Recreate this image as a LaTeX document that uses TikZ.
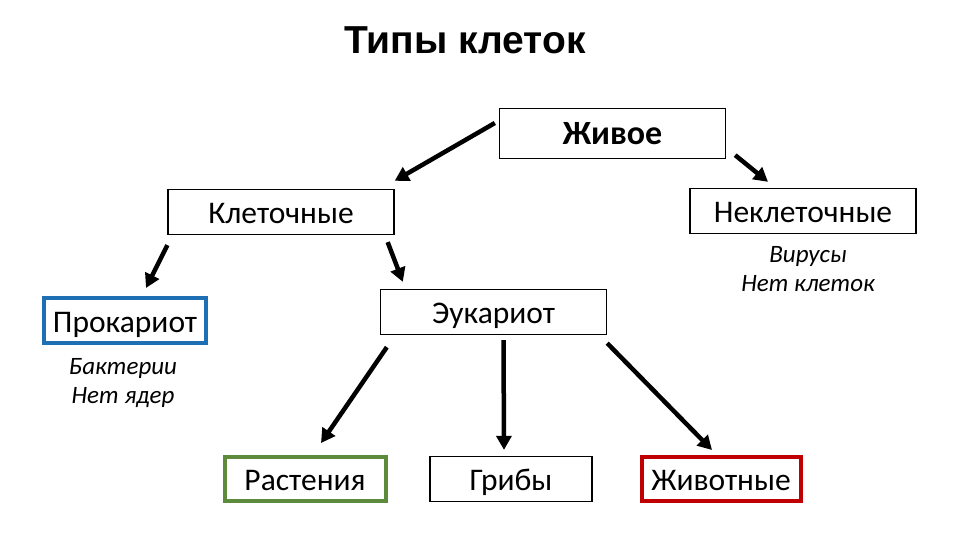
\documentclass[tikz,border=0pt]{standalone}
\usepackage{fontspec}
\setmainfont{Carlito}
\newfontfamily\titlefont{Liberation Sans}
\usepackage{xcolor}
\usetikzlibrary{arrows.meta,positioning,calc}
\definecolor{ink}{HTML}{000000}
\definecolor{blueframe}{HTML}{1F6FB5}
\definecolor{greenframe}{HTML}{5E8A3C}
\definecolor{redframe}{HTML}{C00000}
\tikzset{
  >=Latex,
  every node/.style={text=ink},
  box/.style={draw=ink,line width=1.3pt,fill=white,inner sep=0pt,align=center,
    text height=24pt,text depth=1pt,font=\fontsize{31.5}{34}\selectfont},
  widebox/.style={box,minimum width=226pt,minimum height=45pt},
  smallbox/.style={box,minimum width=162pt,minimum height=45pt},
  blueboxed/.style={smallbox,draw=blueframe,line width=4pt,minimum width=162pt,minimum height=45pt},
  greenboxed/.style={smallbox,draw=greenframe,line width=4pt,minimum width=161pt,minimum height=44pt},
  redboxed/.style={smallbox,draw=redframe,line width=4pt,minimum width=159pt,minimum height=44pt},
  note/.style={align=center,inner sep=0pt,font=\fontsize{25}{29}\selectfont\itshape},
  arrow/.style={-{Triangle[length=14pt,width=15pt]},line width=4.5pt,draw=ink}
}

\begin{document}
\begin{tikzpicture}[x=1pt,y=-1pt]
  \useasboundingbox (0,0) rectangle (960,540);
  \node[font=\titlefont\bfseries\fontsize{39}{42}\selectfont] (title) at (465,40) {Типы клеток};

  \node[widebox,minimum height=50pt,font=\bfseries\fontsize{34}{36}\selectfont] (zhivoe) at (612.5,133.5) {Живое};
  \node[widebox] (kletochnye) at (281,212) {Клеточные};
  \node[widebox] (nekletochnye) at (803,211) {Неклеточные};
  \node[note] (virusy) at (808,269) {Вирусы\\Нет клеток};

  \node[blueboxed] (prokariot) at (125,320.5) {Прокариот};
  \node[note] (bakterii) at (123,383) {Бактерии\\Нет ядер};
  \node[widebox] (eukariot) at (493.5,312) {Эукариот};

  \node[greenboxed] (rasteniya) at (305,479) {Растения};
  \node[smallbox] (griby) at (511,479) {Грибы};
  \node[redboxed] (zhivotnye) at (721,479) {Животные};

  \draw[arrow] ([shift={(-4,-10.5)}]zhivoe.west) -- ([shift={(0,-8)}]kletochnye.north east);
  \draw[arrow] ([shift={(9,-4)}]zhivoe.south east) -- ([shift={(-35,-6)}]nekletochnye.north);
  \draw[arrow] ([shift={(0,10)}]kletochnye.south west) -- ([shift={(21,-8)}]prokariot.north);
  \draw[arrow] ([shift={(-7,7)}]kletochnye.south east) -- ([shift={(23,-7)}]eukariot.north west);
  \draw[arrow] ([shift={(7,12)}]eukariot.south west) -- ([shift={(16,-12)}]rasteniya.north);
  \draw[arrow] ([shift={(10,5)}]eukariot.south) -- ([shift={(-7,-6)}]griby.north);
  \draw[arrow] ([shift={(0,8)}]eukariot.south east) -- ([shift={(-9,-5)}]zhivotnye.north);
\end{tikzpicture}
\end{document}
